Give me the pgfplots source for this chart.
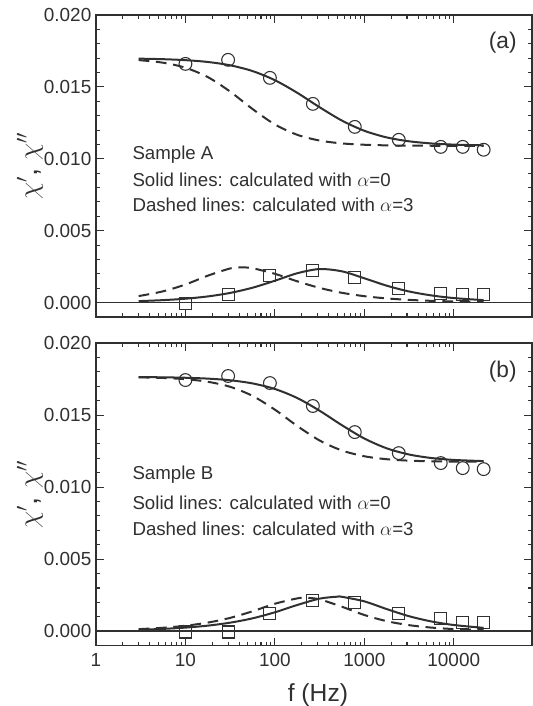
\documentclass[border=0pt]{standalone}
\usepackage{pgfplots}
\pgfplotsset{compat=1.18}
\usepackage{fontspec}
\setmainfont{Liberation Sans}
\definecolor{ink}{HTML}{303030}

\tikzset{
  chifit/.style={ink, line width=1.5pt, mark=none, smooth},
  chifitd/.style={ink, line width=1.5pt, mark=none, smooth, dash pattern=on 8pt off 5pt},
  chicirc/.style={draw=none, mark=o, mark size=4.8pt, mark options={draw=ink, line width=0.8pt, fill=white, solid}},
  chisq/.style={draw=none, mark=square, mark size=4.5pt, mark options={draw=ink, line width=0.8pt, fill=white, solid}},
  chinote/.style={anchor=west, font=\fontsize{14}{17}\selectfont, text=ink},
}

\begin{document}
\begin{tikzpicture}
% ---------------- panel (a)
\begin{axis}[
    scale only axis, width=327pt, height=226.5pt,
    xmode=log, xmin=1, xmax=75000,
    ymin=-0.001, ymax=0.020,
    ytick={0,0.005,0.010,0.015,0.020},
    minor y tick num=4,
    scaled y ticks=false,
    xtick={1,10,100,1000,10000},
    xticklabels={},
    tick align=inside,
    major tick length=6pt, minor tick length=3pt,
    tick style={ink, line width=0.8pt},
    axis line style={ink, line width=1pt},
    yticklabel style={/pgf/number format/fixed, /pgf/number format/fixed zerofill, /pgf/number format/precision=3, /pgf/number format/assume math mode=true},
    tick label style={font=\fontsize{14.2}{17}\selectfont, text=ink},
    ylabel={$\chi'$,\ $\chi''$},
    ylabel style={font=\fontsize{22}{26}\selectfont, text=ink, at={(axis description cs:-0.1514,0.5)}, anchor=center},
    clip=false,
    at={(0,0)}, anchor=north west]
\draw[ink, line width=1.3pt] (axis cs:1,0) -- (axis cs:75000,0);
\addplot[chifit] coordinates {(3,0.016965)(5.623,0.016927)(10,0.016860)(17.78,0.016734)(31.62,0.016503)(56.23,0.016102)(100,0.015467)(177.8,0.014591)(316.2,0.013587)(562.3,0.012657)(1000,0.011950)(1778,0.011489)(3162,0.011218)(5623,0.011068)(10000,0.010987)(21600,0.010937)};
\addplot[chifitd] coordinates {(3,0.016864)(5.623,0.016683)(10,0.016332)(17.78,0.015684)(31.62,0.014673)(56.23,0.013463)(100,0.012391)(177.8,0.011670)(316.2,0.011270)(562.3,0.011071)(1000,0.010978)(1778,0.010935)(3162,0.010916)(5623,0.010908)(10000,0.010903)(21600,0.010901)};
\addplot[chifit] coordinates {(3,0.000105)(5.623,0.000173)(10,0.000273)(17.78,0.000431)(31.62,0.000674)(56.23,0.001036)(100,0.001522)(177.8,0.002042)(316.2,0.002334)(562.3,0.002175)(1000,0.001694)(1778,0.001179)(3162,0.000776)(5623,0.000501)(10000,0.000317)(21600,0.000172)};
\addplot[chifitd] coordinates {(3,0.000454)(5.623,0.000786)(10,0.001259)(17.78,0.001872)(31.62,0.002376)(41.7,0.002450)(56.23,0.002390)(100,0.002003)(177.8,0.001483)(316.2,0.001023)(562.3,0.000682)(1000,0.000448)(1778,0.000293)(3162,0.000190)(5623,0.000124)(10000,0.000080)(21600,0.000045)};
\addplot[chicirc] coordinates {(10,0.0166)(30,0.01688)(88,0.01563)(266,0.01382)(783,0.01222)(2430,0.01132)(7160,0.01083)(12600,0.01083)(21600,0.01063)};
\addplot[chisq] coordinates {(10,-0.00005)(30,0.00056)(88,0.00188)(266,0.00222)(783,0.00174)(2430,0.00097)(7160,0.00063)(12600,0.00056)(21600,0.00056)};
\node[chinote] at (rel axis cs:0.073,0.536) {Sample A};
\node[chinote] at (rel axis cs:0.073,0.454) {Solid lines: calculated with $\alpha$=0};
\node[chinote] at (rel axis cs:0.073,0.371) {Dashed lines: calculated with $\alpha$=3};
\node[font=\fontsize{17}{20}\selectfont, text=ink] at (rel axis cs:0.933,0.907) {(a)};
\end{axis}
% ---------------- panel (b)
\begin{axis}[
    scale only axis, width=327pt, height=227pt,
    xmode=log, xmin=1, xmax=75000,
    ymin=-0.001, ymax=0.020,
    ytick={0,0.005,0.010,0.015,0.020},
    minor y tick num=4,
    scaled y ticks=false,
    xtick={1,10,100,1000,10000},
    xticklabels={1,10,100,1000,10000},
    tick align=inside,
    major tick length=6pt, minor tick length=3pt,
    tick style={ink, line width=0.8pt},
    axis line style={ink, line width=1pt},
    yticklabel style={/pgf/number format/fixed, /pgf/number format/fixed zerofill, /pgf/number format/precision=3, /pgf/number format/assume math mode=true},
    tick label style={font=\fontsize{14.2}{17}\selectfont, text=ink},
    xticklabel style={yshift=-2pt},
    ylabel={$\chi'$,\ $\chi''$},
    ylabel style={font=\fontsize{22}{26}\selectfont, text=ink, at={(axis description cs:-0.1514,0.5)}, anchor=center},
    xlabel={f (Hz)},
    xlabel style={font=\fontsize{18.5}{22}\selectfont, text=ink, at={(axis description cs:0.509,0)}, anchor=center, yshift=-36.75pt},
    clip=false,
    at={(0,-246pt)}, anchor=north west]
\draw[ink, line width=1.3pt] (axis cs:1,0) -- (axis cs:75000,0);
\addplot[chifit] coordinates {(3,0.017635)(5.623,0.017619)(10,0.017589)(17.78,0.017529)(31.62,0.017414)(56.23,0.017197)(100,0.016810)(177.8,0.016183)(316.2,0.015302)(562.3,0.014295)(1000,0.013375)(1778,0.012694)(3162,0.012264)(5623,0.012020)(10000,0.011888)(21600,0.011806)};
\addplot[chifitd] coordinates {(3,0.017618)(5.623,0.017575)(10,0.017489)(17.78,0.017311)(31.62,0.016960)(56.23,0.016331)(100,0.015376)(177.8,0.014245)(316.2,0.013237)(562.3,0.012541)(1000,0.012142)(1778,0.011937)(3162,0.011837)(5623,0.011791)(10000,0.011770)(21600,0.011760)};
\addplot[chifit] coordinates {(3,0.000103)(5.623,0.000165)(10,0.000254)(17.78,0.000390)(31.62,0.000596)(56.23,0.000897)(100,0.001316)(177.8,0.001822)(316.2,0.002264)(501,0.002400)(562.3,0.002390)(1000,0.002075)(1778,0.001540)(3162,0.001045)(5623,0.000680)(10000,0.000434)(21600,0.000236)};
\addplot[chifitd] coordinates {(3,0.000147)(5.623,0.000243)(10,0.000383)(17.78,0.000601)(31.62,0.000928)(56.23,0.001385)(100,0.001909)(177.8,0.002281)(223.9,0.002320)(316.2,0.002212)(562.3,0.001701)(1000,0.001130)(1778,0.000701)(3162,0.000424)(5623,0.000254)(10000,0.000152)(21600,0.000076)};
\addplot[chicirc] coordinates {(10,0.01743)(30,0.01771)(88,0.01722)(266,0.01563)(783,0.01382)(2430,0.01236)(7160,0.01167)(12600,0.01132)(21600,0.01125)};
\addplot[chisq] coordinates {(10,-0.00005)(30,-0.00005)(88,0.00125)(266,0.00215)(783,0.00201)(2430,0.00125)(7160,0.0009)(12600,0.00063)(21600,0.00063)};
\node[chinote] at (rel axis cs:0.073,0.564) {Sample B};
\node[chinote] at (rel axis cs:0.073,0.472) {Solid lines: calculated with $\alpha$=0};
\node[chinote] at (rel axis cs:0.073,0.386) {Dashed lines: calculated with $\alpha$=3};
\node[font=\fontsize{17}{20}\selectfont, text=ink] at (rel axis cs:0.933,0.904) {(b)};
\end{axis}
\pgfresetboundingbox
\path[use as bounding box] (-72pt,11.25pt) rectangle (327.5pt,-518.25pt);
\end{tikzpicture}
\end{document}
